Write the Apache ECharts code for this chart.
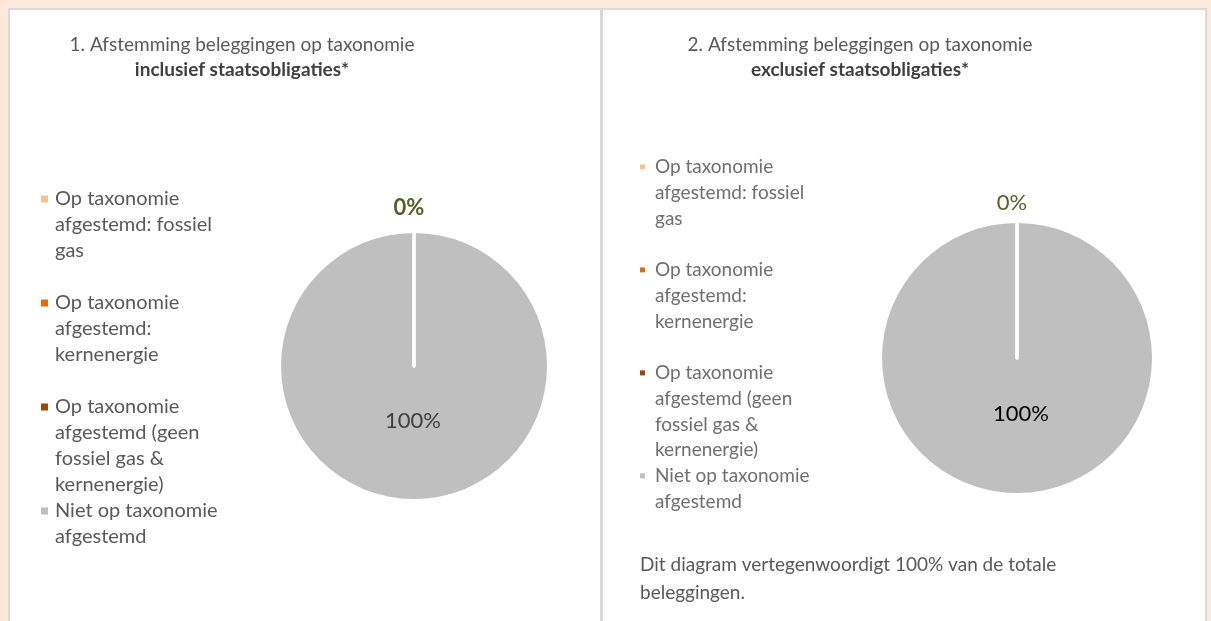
<!DOCTYPE html>
<html>
<head>
<meta charset="utf-8">
<script src="https://cdn.jsdelivr.net/npm/echarts@6/dist/echarts.min.js"></script>
<style>
html, body { margin: 0; padding: 0; background: #fde9d9; }
#wrap { position: relative; width: 1211px; height: 621px; overflow: hidden; }
#panel { position: absolute; left: 8px; top: 8px; width: 1199px; height: 700px; box-sizing: border-box;
  background: #ffffff; border-top: 2px solid #d9d9d9; border-left: 2px solid #d9d9d9; border-right: 2px solid #d9d9d9; }
#divider { position: absolute; left: 600px; top: 8px; width: 3px; height: 700px; background: #d9d9d9; }
#chart { position: absolute; left: 0; top: 0; width: 1211px; height: 621px; }
</style>
</head>
<body>
<div id="wrap">
  <div id="panel"></div>
  <div id="divider"></div>
  <div id="chart"></div>
</div>
<script>
// ---- data ----
const categories = [
  'Op taxonomie afgestemd: fossiel gas',
  'Op taxonomie afgestemd: kernenergie',
  'Op taxonomie afgestemd (geen fossiel gas & kernenergie)',
  'Niet op taxonomie afgestemd'
];
const legendLabels = [
  'Op taxonomie\nafgestemd: fossiel\ngas',
  'Op taxonomie\nafgestemd:\nkernenergie',
  'Op taxonomie\nafgestemd (geen\nfossiel gas &\nkernenergie)',
  'Niet op taxonomie\nafgestemd'
];
const valuesIncl = [0, 0, 0, 100];
const valuesExcl = [0, 0, 0, 100];
const sliceColors = ['#fac090', '#e46c0a', '#984807', '#bfbfbf'];
const titleIncl = ['1. Afstemming beleggingen op taxonomie', 'inclusief staatsobligaties*'];
const titleExcl = ['2. Afstemming beleggingen op taxonomie', 'exclusief staatsobligaties*'];
const footnote = ['Dit diagram vertegenwoordigt 100% van de totale', 'beleggingen.'];
// draw the non-zero slice first so the zero slices' white edges stay visible
const drawOrder = [3, 0, 1, 2];
const zeroLabelIndex = 2;

const FONT = 'Lato, "Open Sans", sans-serif';

function padLines(s, n) {
  const k = s.split('\n').length;
  let out = s;
  for (let i = k; i < n; i++) out += '\n ';
  return out;
}

function legendIcon(boxW, sq, boxH, cy) {
  const y0 = cy - sq / 2;
  return 'path://M0,0 M' + boxW + ',0 M0,' + boxH + ' M0,' + y0 + 'h' + sq + 'v' + sq + 'h-' + sq + 'z';
}

function makeLegend(left, top, lh, sq, boxW, textColor, fontSize) {
  const boxH = lh * 4;
  return {
    orient: 'vertical', left: left, top: top, padding: 0, itemGap: 0,
    itemWidth: boxW, itemHeight: boxH, selectedMode: false,
    itemStyle: { borderWidth: 0 },
    data: categories.map(c => ({ name: c, icon: legendIcon(boxW, sq, boxH, lh / 2) })),
    formatter: name => padLines(legendLabels[categories.indexOf(name)], 4),
    textStyle: { fontFamily: FONT, fontSize: fontSize, lineHeight: lh, color: textColor }
  };
}

function pieSeries(values, center, radius, zeroLabel, fullLabel, zeroOff, fullOff) {
  return {
    type: 'pie', center: center, radius: radius, startAngle: 90, clockwise: true,
    animation: false, avoidLabelOverlap: false, silent: true,
    labelLine: { show: false },
    data: drawOrder.map(i => ({
      name: categories[i],
      value: values[i],
      itemStyle: values[i] === 0
        ? { color: sliceColors[i], borderColor: '#ffffff', borderWidth: 3 }
        : { color: sliceColors[i], borderWidth: 0 },
      label: values[i] === 0
        ? (i === zeroLabelIndex ? Object.assign({ show: true, position: 'outside' }, zeroLabel) : { show: false })
        : Object.assign({ show: true, position: 'inside' }, fullLabel)
    })),
    label: { show: false, formatter: p => Math.round(p.percent) + '%' },
    labelLayout: function (p) {
      if (values[drawOrder[p.dataIndex]] === 0) {
        return { x: p.rect.x + p.rect.width / 2 + zeroOff[0], y: p.rect.y + zeroOff[1], align: 'center', verticalAlign: 'middle' };
      }
      return { dx: fullOff[0], dy: fullOff[1] };
    }
  };
}

const richTitle = {
  a: { fontFamily: FONT, fontSize: 19, lineHeight: 25, color: '#595959', fontWeight: 'normal' },
  b: { fontFamily: FONT, fontSize: 19, lineHeight: 25, color: '#404040', fontWeight: 'bold' }
};

const chart = echarts.init(document.getElementById('chart'), null, { renderer: 'canvas' });
const option = {
  backgroundColor: 'transparent',
  title: [
    {
      left: 242, top: 32, padding: 0, textAlign: 'center',
      text: '{a|' + titleIncl[0] + '}\n{b|' + titleIncl[1] + '}',
      textStyle: { fontWeight: 'normal', rich: richTitle }
    },
    {
      left: 860, top: 32, padding: 0, textAlign: 'center',
      text: '{a|' + titleExcl[0] + '}\n{b|' + titleExcl[1] + '}',
      textStyle: { fontWeight: 'normal', rich: richTitle }
    },
    {
      left: 640, top: 551, padding: 0,
      text: footnote.join('\n'),
      textStyle: { fontFamily: FONT, fontSize: 19, lineHeight: 28, fontWeight: 'normal', color: '#595959' }
    }
  ],
  legend: [
    makeLegend(41, 186, 26, 7, 9, '#595959', 20),
    makeLegend(640, 154, 25.75, 5, 10, '#6f6f6f', 19)
  ],
  series: [
    pieSeries(valuesIncl, [414, 366], 133,
      { fontFamily: FONT, fontSize: 22, fontWeight: 'bold', color: '#4f6228' },
      { fontFamily: FONT, fontSize: 22, color: '#404040' },
      [-5, -24], [-1, -15]),
    pieSeries(valuesExcl, [1017, 358], 135,
      { fontFamily: FONT, fontSize: 22, color: '#4f6228' },
      { fontFamily: FONT, fontSize: 22, color: '#000000' },
      [-5, -19], [4, -15])
  ]
};
chart.setOption(option);
</script>
</body>
</html>
